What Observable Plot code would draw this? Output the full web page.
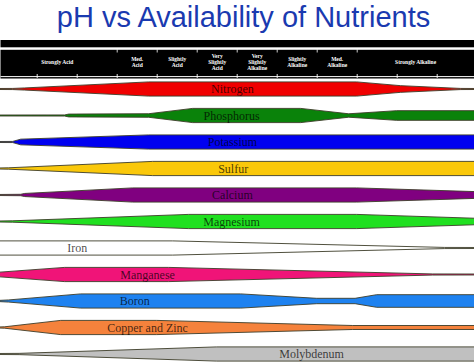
<!DOCTYPE html>
<html><head><meta charset="utf-8">
<script src="https://cdn.jsdelivr.net/npm/d3@7"></script>
<script src="https://cdn.jsdelivr.net/npm/@observablehq/plot@0.6"></script>
<style>body{margin:0;background:#fff}</style>
</head><body><div id="chart"></div>
<script>
const title = "pH vs Availability of Nutrients";
const nutrients = ["Nitrogen","Phosphorus","Potassium","Sulfur","Calcium","Magnesium","Iron","Manganese","Boron","Copper and Zinc","Molybdenum"];
const colors = ["#f00000","#0a820a","#0000f0","#fac80a","#800080","#20e020","#ffffff","#f01478","#1e82f0","#f5823c","#c0c0c0"];
const labelPH = [6.94,6.93,6.94,6.95,6.94,6.93,5.0,5.88,5.72,5.88,7.93];
// availability profiles: [pH, relative band width 0..1]
const nitrogen   = [[4,0.07],[4.2,0.08],[4.35,0.15],[5.9,1],[8.5,1],[9.05,0.47],[9.8,0.08],[10,0.07]];
const phosphorus = [[4,0.07],[4.85,0.08],[4.9,0.2],[5.9,0.25],[6.45,1],[7.8,1],[8.4,0.24],[9.0,0.68],[10,0.68]];
const potassium  = [[4,0.07],[4.2,0.08],[4.3,0.4],[5.9,1],[10,1]];
const sulfur     = [[4,0.07],[4.15,0.1],[5.95,1],[10,1]];
const calcium    = [[4,0.07],[4.3,0.1],[4.35,0.22],[5.7,1],[8.5,1],[10,0.47]];
const magnesium  = [[4,0.07],[4.2,0.1],[6.4,1],[8.5,1],[10,0.45]];
const iron       = [[4,1],[6.2,1],[9.6,0.08],[10,0.07]];
const manganese  = [[4,0.3],[4.85,1],[6.15,1],[9.45,0.08],[10,0.07]];
const boron      = [[4,0.07],[4.15,0.15],[5.05,1],[7.05,1],[8.0,0.38],[8.48,0.38],[8.75,0.89],[10,0.89]];
const copperZinc = [[4,0.07],[4.1,0.1],[4.8,1],[6.0,1],[8.45,0.28],[10,0.28]];
const molybdenum = [[4,0.07],[4.28,0.09],[6.75,1],[10,1]];
const profiles = [nitrogen,phosphorus,potassium,sulfur,calcium,magnesium,iron,manganese,boron,copperZinc,molybdenum];

const categories = ["Strongly Acid","Med.\nAcid","Slightly\nAcid","Very\nSlightly\nAcid","Very\nSlightly\nAlkaline","Slightly\nAlkaline","Med.\nAlkaline","Strongly Alkaline"];
const categoryPH = [4.75,5.75,6.25,6.75,7.25,7.75,8.25,9.23];
const boundaries = [5.5,6,6.5,7,7.5,8,8.5];
const phTicks = [4.5,5,5.5,6,6.5,7,7.5,8,8.5,9,9.5];

const W = 474, H = 363;
const K = 0.268;
const edge = "#3c3c28";

const bandMarks = nutrients.map((n, i) => Plot.areaY(profiles[i], {
  x: d => d[0], y1: d => i - d[1]*K, y2: d => i + d[1]*K,
  fill: colors[i], stroke: edge, strokeWidth: 0.9, curve: "linear"
}));

const plot = Plot.plot({
  width: W, height: H,
  marginTop: 0, marginBottom: 0, marginLeft: 0, marginRight: 0,
  x: {domain: [4, 10], range: [-3.3, 476.7], axis: null},
  y: {domain: [0, 10], range: [89, 354], axis: null},
  marks: [
    Plot.text([title], {frameAnchor: "top", dy: 26, dx: 6, lineAnchor: "bottom", text: d => d,
      fontFamily: "Liberation Sans, Arial, sans-serif", fontSize: 29, fill: "#1a3ab0"}),
    Plot.frame({fill: "black", stroke: null, insetTop: 39.5, insetBottom: H - 46.8}),
    Plot.frame({fill: "black", stroke: null, insetTop: 49.3, insetBottom: H - 78}),
    Plot.frame({fill: "white", stroke: null, insetTop: 75.6, insetBottom: H - 76.6}),
    Plot.tickX(phTicks, {x: d => d, stroke: "white", strokeWidth: 0.9, insetTop: 74, insetBottom: H - 78}),
    Plot.tickX(boundaries, {x: d => d, stroke: "white", strokeWidth: 0.8, insetTop: 49.3, insetBottom: H - 52.5}),
    Plot.text(categories, {x: (d, i) => categoryPH[i], text: d => d, frameAnchor: "top", dy: 61.5,
      lineAnchor: "middle", lineHeight: 1.13, fill: "white", fontSize: 5.5, fontWeight: "bold",
      fontFamily: "Liberation Serif, Times New Roman, serif"}),
    ...bandMarks,
    Plot.text(nutrients, {x: (d, i) => labelPH[i], y: (d, i) => i, text: d => d, lineAnchor: "middle",
      fontFamily: "Liberation Serif, Times New Roman, serif", fontSize: 12, fill: "#000", fillOpacity: 0.72})
  ]
});
document.getElementById("chart").appendChild(plot);
</script>
</body></html>
